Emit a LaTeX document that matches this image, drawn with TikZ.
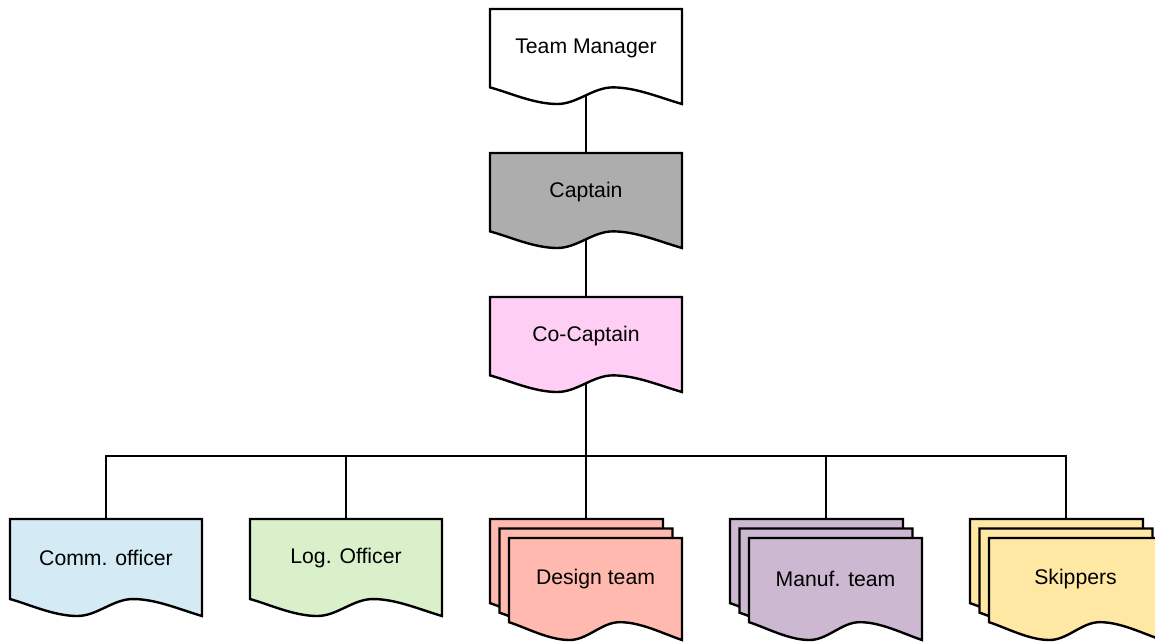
\documentclass[tikz,border=0pt]{standalone}
\usepackage{fontspec}
\setmainfont{Liberation Sans}
\usetikzlibrary{backgrounds}
\definecolor{capgray}{HTML}{ADADAD}
\definecolor{ccpink}{HTML}{FFCEF4}
\definecolor{commblue}{HTML}{D4EAF4}
\definecolor{loggreen}{HTML}{D9F0CB}
\definecolor{dessalmon}{HTML}{FFB9AE}
\definecolor{manpurple}{HTML}{CCB8D1}
\definecolor{skipyellow}{HTML}{FFE8A3}
\tikzset{
  docline/.style={draw=black, line width=2.4pt, line join=miter},
  conn/.style={draw=black, line width=2pt},
  lbl/.style={font=\fontsize{21.2}{25}\selectfont, inner sep=0pt, text=black},
}
\newcommand\docshape[5]{%
  \begin{scope}[shift={(#1,#2)},xscale=#3,yscale=#4]
    \path[docline,fill=#5] (0,0) -- (1,0) -- (1,1)
      .. controls (0.88,0.93) and (0.76,0.825) .. (0.64,0.825)
      .. controls (0.536,0.825) and (0.454,1) .. (0.35,1)
      .. controls (0.23,1) and (0.1,0.88) .. (0,0.825) -- cycle;
  \end{scope}}
\newcommand\docstack[3]{% x, y, fill
  \docshape{#1}{#2}{173}{102}{#3}
  \docshape{#1+9.5}{#2+9.5}{173}{102}{#3}
  \docshape{#1+19}{#2+19}{173}{102}{#3}}
\begin{document}
\begin{tikzpicture}[x=1pt,y=-1pt]
  \clip (0,0) rectangle (1155,641);
  % shapes
  \docshape{490}{9}{192}{95}{white}
  \docshape{490}{153}{192}{95}{capgray}
  \docshape{490}{297}{192}{95}{ccpink}
  \docshape{10}{519}{192}{97}{commblue}
  \docshape{250}{519}{192}{97}{loggreen}
  \docstack{490}{519}{dessalmon}
  \docstack{730}{519}{manpurple}
  \docstack{970}{519}{skipyellow}
  % labels
  \node[lbl] (tm) at (586,48) {Team Manager};
  \node[lbl] (cap) at (586,192) {Captain};
  \node[lbl] (cc) at (586,336) {Co-Captain};
  \node[lbl] (comm) at (106,558) {Comm. officer};
  \node[lbl] (log) at (346,558) {Log. Officer};
  \node[lbl] (des) at (595.5,579) {Design team};
  \node[lbl] (man) at (835.5,579) {Manuf. team};
  \node[lbl] (skip) at (1075.5,579) {Skippers};
  % connector points
  \coordinate (bus) at (586,456);
  \coordinate (commtop) at (106,519);
  \coordinate (logtop) at (346,519);
  \coordinate (destop) at (586,519);
  \coordinate (mantop) at (826,519);
  \coordinate (skiptop) at (1066,519);
  \begin{scope}[on background layer]
    \draw[conn] (tm.center) -- (cap.center);
    \draw[conn] (cap.center) -- (cc.center);
    \draw[conn] (cc.center) -- (bus);
    \draw[conn] (bus) -| (commtop);
    \draw[conn] (bus) -| (logtop);
    \draw[conn] (bus) -- (destop);
    \draw[conn] (bus) -| (mantop);
    \draw[conn] (bus) -| (skiptop);
  \end{scope}
\end{tikzpicture}
\end{document}
